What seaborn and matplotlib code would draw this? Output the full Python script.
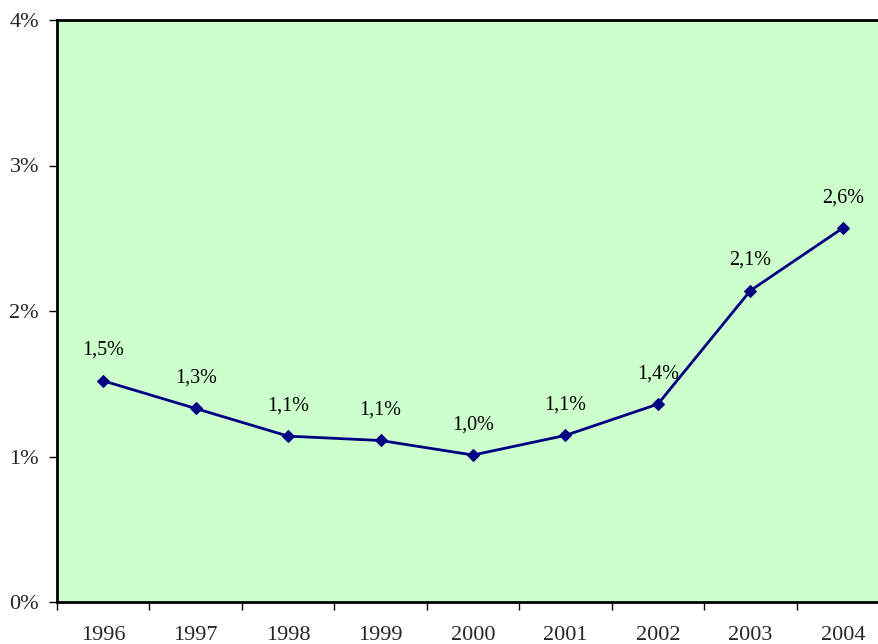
import matplotlib
matplotlib.use("Agg")
import matplotlib.pyplot as plt
import seaborn as sns
import numpy as np
from matplotlib.ticker import FixedLocator

years = ["1996", "1997", "1998", "1999", "2000", "2001", "2002", "2003", "2004"]
values = [1.52, 1.33, 1.14, 1.11, 1.01, 1.145, 1.36, 2.14, 2.57]
labels = ["1,5%", "1,3%", "1,1%", "1,1%", "1,0%", "1,1%", "1,4%", "2,1%", "2,6%"]
yticks = [0, 1, 2, 3, 4]
ytick_labels = ["0%", "1%", "2%", "3%", "4%"]

sns.set_style("ticks")
plt.rcParams['font.family'] = ['Liberation Serif', 'DejaVu Serif']

fig = plt.figure(figsize=(8.79, 6.44), dpi=100)
ax = fig.add_axes([57/879, 42/644, 832/879, 582/644])
ax.set_facecolor("#CCFFCC")

x = np.arange(len(years))
sns.lineplot(x=x, y=values, ax=ax, color="#000080", marker="D", markersize=6,
             markeredgecolor="#000080", linewidth=2)

for xi, v, lab in zip(x, values, labels):
    ax.annotate(lab, (xi, v), xytext=(0, 15), textcoords="offset points",
                ha="center", va="bottom", fontsize=14.5, color="black")

ax.set_xlim(-0.5, len(years) - 0.5)
ax.set_ylim(0, 4)
ax.set_yticks(yticks)
ax.set_yticklabels(ytick_labels, fontsize=16)
ax.set_xticks(x)
ax.set_xticklabels(years, fontsize=16)
ax.tick_params(axis="x", which="major", length=0, pad=17)
ax.xaxis.set_minor_locator(FixedLocator(np.arange(-0.5, len(years), 1.0)))
ax.tick_params(axis="x", which="minor", length=6, width=1, color="black")
ax.tick_params(axis="y", length=6, width=1, pad=7, color="black")
for s in ax.spines.values():
    s.set_color("black")
    s.set_linewidth(2)
ax.set_xlabel("")
ax.set_ylabel("")

fig.savefig("out.png", dpi=100)
